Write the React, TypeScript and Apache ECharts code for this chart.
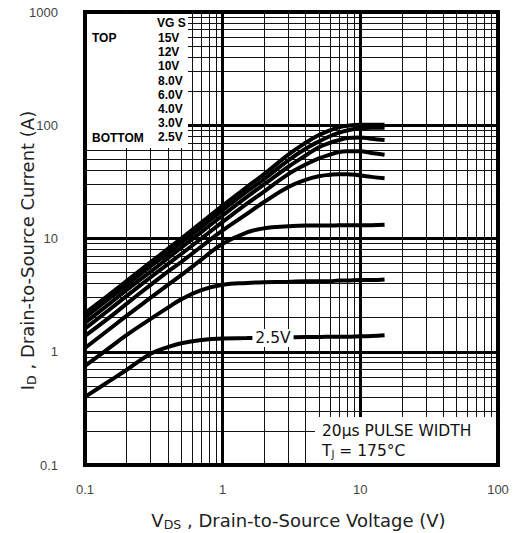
import React, { useEffect, useRef } from "react";
import * as echarts from "echarts";

// Drain-to-source voltage sample points (V)
const VDS = [0.1, 0.15, 0.2, 0.3, 0.4, 0.5, 0.7, 1, 1.5, 2, 3, 4, 5, 6, 7, 8, 10, 12, 15];

// Drain current (A) for each gate voltage
const ID_15V = [2.2, 3.2, 4.2, 6.2, 8.1, 10, 13.8, 19.5, 28.5, 37, 55, 70, 82, 90, 96, 99, 101, 101, 101];
const ID_12V = [2.0, 2.95, 3.85, 5.7, 7.4, 9.2, 12.6, 17.8, 26, 33.5, 49, 62, 72, 80, 86, 90, 94, 95, 95];
const ID_10V = [1.8, 2.65, 3.5, 5.1, 6.7, 8.3, 11.4, 16, 23.3, 30, 43, 54, 64, 70, 74, 77, 78, 76, 74];
const ID_8V = [1.6, 2.35, 3.1, 4.55, 5.95, 7.3, 10, 14, 20.3, 26, 37, 45, 51, 55, 58, 59, 59, 57, 55];
const ID_6V = [1.38, 2.0, 2.65, 3.9, 5.1, 6.2, 8.5, 11.8, 16.5, 21, 28.5, 33, 35.5, 36.5, 37, 37, 36, 35, 34];
const ID_4V = [1.08, 1.58, 2.07, 3.0, 3.9, 4.75, 6.5, 9.0, 11.3, 12.3, 12.8, 13.0, 13.0, 13.0, 13.1, 13.1, 13.1, 13.1, 13.2];
const ID_3V = [0.75, 1.08, 1.4, 1.95, 2.45, 2.9, 3.5, 3.9, 4.05, 4.1, 4.15, 4.2, 4.2, 4.2, 4.25, 4.25, 4.3, 4.3, 4.35];
const ID_2V5 = [0.4, 0.55, 0.69, 0.96, 1.1, 1.19, 1.27, 1.31, 1.32, 1.33, 1.34, 1.35, 1.35, 1.36, 1.36, 1.36, 1.37, 1.38, 1.4];

const CURVES = [ID_15V, ID_12V, ID_10V, ID_8V, ID_6V, ID_4V, ID_3V, ID_2V5];
const CURVE_NAMES = ["15V", "12V", "10V", "8.0V", "6.0V", "4.0V", "3.0V", "2.5V"];

// Legend text
const VGS_TITLE = "VG S";
const VGS_LABELS = ["15V", "12V", "10V", "8.0V", "6.0V", "4.0V", "3.0V", "2.5V"];

const X_MIN = 0.1;
const X_MAX = 100;
const Y_MIN = 0.1;
const Y_MAX = 1000;

const FONT = "'Liberation Sans', Arial, sans-serif";
const WIDE = "'DejaVu Sans', 'Liberation Sans', sans-serif";

export default function App() {
  const ref = useRef<HTMLDivElement>(null);

  useEffect(() => {
    document.body.style.margin = "0";
    if (!ref.current) return;
    const chart = echarts.init(ref.current, null, { renderer: "svg" });

    const legendTexts: any[] = [];
    legendTexts.push({
      type: "text",
      z: 101,
      style: { text: VGS_TITLE, x: 157, y: 23, verticalAlign: "middle", fontFamily: FONT, fontWeight: "bold", fontSize: 12, fill: "#000" },
    });
    VGS_LABELS.forEach((t, i) => {
      legendTexts.push({
        type: "text",
        z: 101,
        style: { text: t, x: 158, y: 38 + i * 14.2, verticalAlign: "middle", fontFamily: FONT, fontWeight: "bold", fontSize: 12, fill: "#000" },
      });
    });
    legendTexts.push({
      type: "text",
      z: 101,
      style: { text: "TOP", x: 92, y: 38, verticalAlign: "middle", fontFamily: FONT, fontWeight: "bold", fontSize: 12, fill: "#000" },
    });
    legendTexts.push({
      type: "text",
      z: 101,
      style: { text: "BOTTOM", x: 92, y: 138, verticalAlign: "middle", fontFamily: FONT, fontWeight: "bold", fontSize: 12, fill: "#000" },
    });

    const option: any = {
      animation: false,
      backgroundColor: "#fff",
      grid: {
        left: 85,
        right: 17,
        top: 12,
        bottom: 68,
        containLabel: false,
        outerBoundsMode: "none",
        show: true,
        borderColor: "#000",
        borderWidth: 4,
        backgroundColor: "transparent",
      },
      xAxis: {
        type: "log",
        logBase: 10,
        min: X_MIN,
        max: X_MAX,
        name: "{m|V}{s|DS}{m| , Drain-to-Source Voltage (V)}",
        nameLocation: "middle",
        nameGap: 44,
        nameTextStyle: {
          padding: [0, 0, 0, 14],
          rich: {
            m: { fontFamily: WIDE, fontSize: 18, color: "#222" },
            s: { fontFamily: WIDE, fontSize: 12.5, color: "#222", padding: [9, 0, 0, 0] },
          },
        },
        axisLine: { show: true, lineStyle: { color: "#000", width: 4 } },
        axisTick: { show: false },
        minorTick: { show: false, splitNumber: 9 },
        axisLabel: {
          margin: 18,
          fontFamily: FONT,
          fontSize: 13,
          color: "#444",
          formatter: (v: number) => String(v),
        },
        splitLine: { show: true, lineStyle: { color: "#000", width: 3 } },
        minorSplitLine: { show: true, lineStyle: { color: "#111", width: 1 } },
      },
      yAxis: {
        type: "log",
        logBase: 10,
        min: Y_MIN,
        max: Y_MAX,
        name: "{m|I}{s|D}{m| , Drain-to-Source Current (A)}",
        nameLocation: "middle",
        nameGap: 47,
        nameMoveOverlap: false,
        nameRotate: 90,
        nameTextStyle: {
          padding: [0, 0, 0, -24],
          rich: {
            m: { fontFamily: WIDE, fontSize: 18, color: "#222" },
            s: { fontFamily: WIDE, fontSize: 12.5, color: "#222", padding: [9, 0, 0, 0] },
          },
        },
        axisLine: { show: true, lineStyle: { color: "#000", width: 4 } },
        axisTick: { show: false },
        minorTick: { show: false, splitNumber: 9 },
        axisLabel: {
          margin: 27,
          fontFamily: FONT,
          fontSize: 13,
          color: "#444",
          formatter: (v: number) => String(v),
        },
        splitLine: { show: true, lineStyle: { color: "#000", width: 3 } },
        minorSplitLine: { show: true, lineStyle: { color: "#111", width: 1 } },
      },
      series: CURVES.map((arr, k) => ({
        name: CURVE_NAMES[k],
        type: "line",
        data: VDS.map((v, i) => [v, arr[i]]),
        smooth: 0.45,
        showSymbol: false,
        symbol: "none",
        z: 5,
        lineStyle: { color: "#000", width: 4 },
      })),
      graphic: [
        // legend panel (white)
        { type: "rect", z: 100, shape: { x: 87, y: 14, width: 101, height: 134 }, style: { fill: "#fff" } },
        ...legendTexts,
        // pulse-width note panel
        { type: "rect", z: 100, shape: { x: 315, y: 417, width: 181, height: 46 }, style: { fill: "#fff" } },
        {
          type: "text",
          z: 101,
          style: { text: "20µs PULSE WIDTH", x: 322, y: 431, verticalAlign: "middle", fontFamily: WIDE, fontSize: 15.5, fill: "#111" },
        },
        {
          type: "text",
          z: 101,
          style: {
            text: "{m|T}{s|J}{m| = 175°C}",
            x: 322,
            y: 451,
            verticalAlign: "middle",
            rich: {
              m: { fontFamily: WIDE, fontSize: 15.5, fill: "#111" },
              s: { fontFamily: WIDE, fontSize: 10, fill: "#111", padding: [7, 0, 0, 0] },
            },
          },
        },
        // 2.5V curve label
        {
          type: "text",
          z: 101,
          style: {
            text: "2.5V",
            x: 273,
            y: 338,
            align: "center",
            verticalAlign: "middle",
            fontFamily: WIDE,
            fontSize: 15.5,
            fill: "#111",
            backgroundColor: "#fff",
            padding: [1, 3, 1, 3],
          },
        },
      ],
    };

    chart.setOption(option);
    return () => chart.dispose();
  }, []);

  return <div ref={ref} style={{ width: 515, height: 533 }} />;
}
